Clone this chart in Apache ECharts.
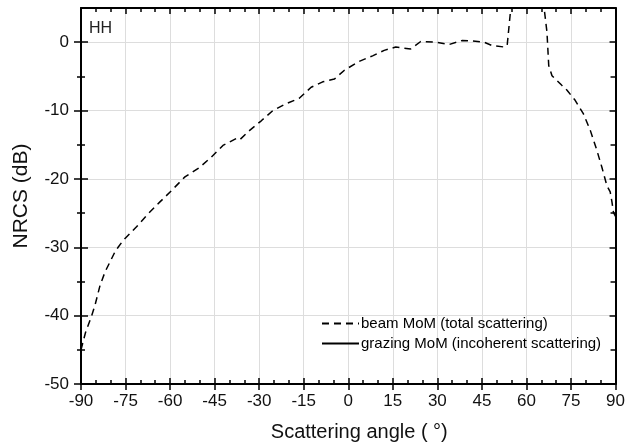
<!DOCTYPE html>
<html>
<head>
<meta charset="utf-8">
<script src="https://cdn.jsdelivr.net/npm/echarts@6/dist/echarts.min.js"></script>
<style>
  html, body { margin: 0; padding: 0; background: #fff; }
  #chart { width: 628px; height: 447px; }
</style>
</head>
<body>
<div id="chart"></div>
<script>
// scattering angle (deg) and NRCS (dB)
const angle = [-90, -88.5, -86.4, -85.3, -83.6, -81.9, -80.3, -78.6, -77.5, -75.8, -71.3, -67.4, -63.5,
  -59.5, -55, -50, -46.1, -42.2, -37.7, -36.6, -33.2, -29.3, -25.4, -20.9, -16.5, -12.5, -8.6, -4.7,
  -1.3, 3.7, 8.2, 12.1, 16, 21, 24.4, 29.4, 33.9, 38.4, 41.7, 45.7, 48.5, 52.4, 53.5, 54.6, 56, 60,
  64, 65.8, 66.9, 67.5, 68.6, 71.9, 73.6, 76.4, 79.2, 81.5, 83.7, 85.4, 87.1, 88.2, 88.8, 89.3, 90]
const beamMoM = [-45, -42.5, -40, -38.5, -35.6, -33.6, -32.2, -30.7, -30, -29, -27, -25.1, -23.4,
  -21.7, -19.7, -18.3, -16.8, -15.1, -14.1, -14.3, -12.9, -11.5, -10, -9, -8.2, -6.6, -5.8, -5.4,
  -4.1, -2.8, -2, -1.2, -0.7, -1, 0.1, 0, -0.35, 0.25, 0.2, 0, -0.5, -0.7, -0.5, 4.4, 9, 12,
  9, 5.5, 1.5, -3.4, -4.9, -6.3, -7, -8.5, -10.5, -12.9, -15.8, -18.3, -21, -21.9, -23.4, -24.9, -25.5]
const grazingMoM = []

const xMajor = [-90, -75, -60, -45, -30, -15, 0, 15, 30, 45, 60, 75, 90]
const yMajor = [-50, -40, -30, -20, -10, 0]
const yMinor = [-45, -35, -25, -15, -5]

const font = 'Liberation Sans, Arial, sans-serif'
const black = '#000'

// extra axes used only to draw tick marks
function tickAxis (position, vals, len, inside, min, max) {
  return {
    type: 'value',
    position: position,
    min: min,
    max: max,
    axisLine: { show: false, onZero: false },
    axisLabel: { show: false },
    splitLine: { show: false },
    axisTick: { show: true, customValues: vals, inside: inside, length: len, lineStyle: { color: black, width: 1.5 } }
  }
}

const chart = echarts.init(document.getElementById('chart'))
const option = {
  animation: false,
  backgroundColor: '#fff',
  grid: { left: 81, right: 11, top: 8, bottom: 63 },
  legend: {
    orient: 'vertical',
    left: 316,
    top: 311,
    itemWidth: 37,
    itemHeight: 14,
    itemGap: 5,
    itemStyle: { opacity: 0 },
    textStyle: { fontFamily: font, fontSize: 15, color: black, padding: [0, 0, 0, -3] },
    data: ['beam MoM (total scattering)', 'grazing MoM (incoherent scattering)']
  },
  graphic: [{
    type: 'text', left: 89, top: 21,
    style: { text: 'HH', font: '16px ' + font, fill: '#222' }
  }],
  xAxis: [
    {
      type: 'value', min: -90, max: 90, interval: 15, position: 'bottom',
      name: 'Scattering angle ( °)', nameLocation: 'middle', nameGap: 38,
      nameTextStyle: { fontFamily: font, fontSize: 20, color: '#111', padding: [0, 0, 0, 22] },
      axisLine: { onZero: false, lineStyle: { color: black, width: 2 } },
      axisTick: { inside: true, length: 6, lineStyle: { color: black, width: 1.5 } },
      minorTick: { show: true, splitNumber: 3, length: 4, lineStyle: { color: black, width: 1.5 } },
      axisLabel: { fontFamily: font, fontSize: 17, color: '#111', margin: 9 },
      splitLine: { show: true, lineStyle: { color: '#ddd', width: 1 } }
    },
    tickAxis('bottom', xMajor, 6, false, -90, 90),
    {
      type: 'value', min: -90, max: 90, interval: 15, position: 'top',
      axisLine: { onZero: false, lineStyle: { color: black, width: 2 } },
      axisTick: { inside: true, length: 6, lineStyle: { color: black, width: 1.5 } },
      minorTick: { show: true, splitNumber: 3, length: 4, lineStyle: { color: black, width: 1.5 } },
      axisLabel: { show: false },
      splitLine: { show: false }
    }
  ],
  yAxis: [
    {
      type: 'value', min: -50, max: 5, interval: 10, position: 'left',
      name: 'NRCS (dB)', nameLocation: 'middle', nameGap: 49, nameRotate: 90,
      nameTextStyle: { fontFamily: font, fontSize: 21, color: '#111' },
      axisLine: { show: true, onZero: false, lineStyle: { color: black, width: 2 } },
      axisTick: { show: true, customValues: yMajor, inside: true, length: 7, lineStyle: { color: black, width: 1.5 } },
      axisLabel: { customValues: yMajor, fontFamily: font, fontSize: 17, color: '#111', margin: 12 },
      splitLine: { show: true, lineStyle: { color: '#ddd', width: 1 } }
    },
    tickAxis('left', yMajor, 7, false, -50, 5),
    tickAxis('left', yMinor, 4, true, -50, 5),
    tickAxis('left', yMinor, 4, false, -50, 5),
    Object.assign(tickAxis('right', yMajor, 6, true, -50, 5), {
      axisLine: { show: true, onZero: false, lineStyle: { color: black, width: 2 } }
    }),
    tickAxis('right', yMinor, 5, true, -50, 5)
  ],
  series: [
    {
      name: 'beam MoM (total scattering)',
      type: 'line',
      symbol: 'none',
      clip: true,
      lineStyle: { color: black, width: 1.5, type: [7, 5] },
      itemStyle: { color: black },
      data: angle.map((a, i) => [a, beamMoM[i]])
    },
    {
      name: 'grazing MoM (incoherent scattering)',
      type: 'line',
      symbol: 'none',
      lineStyle: { color: black, width: 1 },
      itemStyle: { color: black },
      data: grazingMoM
    }
  ]
}
chart.setOption(option)
</script>
</body>
</html>
